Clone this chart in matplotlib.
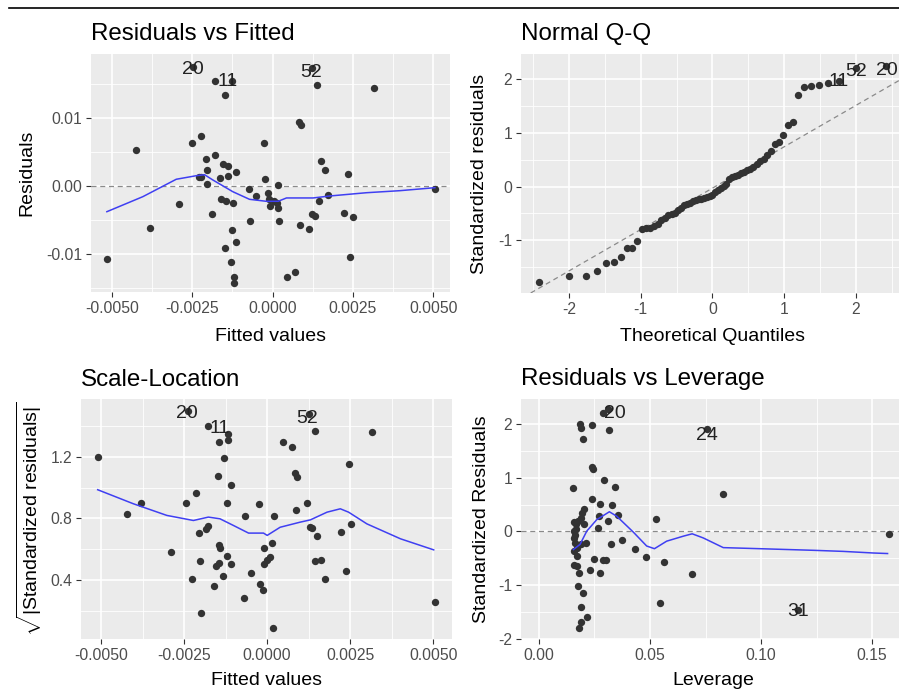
import statistics

import matplotlib
matplotlib.use("Agg")
import matplotlib.pyplot as plt
from matplotlib.lines import Line2D
from matplotlib.ticker import FixedLocator, FixedFormatter

plt.rcParams['font.family'] = ['Liberation Sans', 'DejaVu Sans']
plt.rcParams['mathtext.fontset'] = 'custom'
plt.rcParams['mathtext.rm'] = 'Liberation Sans'
plt.rcParams['mathtext.it'] = 'Liberation Sans:italic'
plt.rcParams['axes.unicode_minus'] = False

# --- Residuals vs Fitted ---
rvf_fitted = [-0.00516, -0.00426, -0.00383, -0.00293, -0.00251, -0.00222, -0.00230, -0.00224,
              -0.00207, -0.00203, -0.00203, -0.00181, -0.00190, -0.00181, -0.00165, -0.00153,
              -0.00140, -0.00138, -0.00147, -0.00160, -0.00146, -0.00124, -0.00113, -0.00127,
              -0.00113, -0.00147, -0.00130, -0.00121, -0.00121, -0.00126, -0.00075, -0.00070,
              -0.00053, -0.00027, -0.00023, -0.00015, -0.00012, -0.00009, 0.00003, 0.00012,
              0.00016, 0.00017, 0.00020, 0.00045, 0.00071, 0.00083, 0.00088, 0.00084,
              0.00113, 0.00122, 0.00132, 0.00139, 0.00144, 0.00149, 0.00162, 0.00171,
              0.00221, 0.00235, 0.00251, 0.00242, 0.00317, 0.00505, -0.00248, 0.00121]
rvf_resid = [-0.01078, 0.00534, -0.00618, -0.00269, 0.00637, 0.00735, 0.00137, 0.00130,
             0.00392, 0.00235, 0.00029, 0.00451, -0.00416, 0.01544, 0.00113, 0.00319,
             0.00299, 0.00152, 0.01343, -0.00196, -0.00216, -0.00250, 0.00211, -0.00642,
             -0.00819, -0.00917, -0.01123, -0.01343, -0.01431, 0.01544, -0.00044, -0.00515,
             -0.00147, 0.00637, 0.00108, -0.00098, -0.00196, -0.00289, -0.00225, -0.00255,
             0.00010, -0.00328, -0.00520, -0.01343, -0.01270, 0.00941, 0.00897, -0.00578,
             -0.00637, -0.00412, -0.00441, 0.01485, -0.00216, 0.00368, 0.00231, -0.00132,
             -0.00392, 0.00172, -0.00456, -0.01044, 0.01446, -0.00049, 0.01754, 0.01730]
rvf_smooth_x = [-0.00516, -0.00404, -0.00300, -0.00238, -0.00212, -0.00186, -0.00124, -0.00072,
                -0.00020, 0.00017, 0.00043, 0.00126, 0.00178, 0.00292, 0.00396, 0.00505]
rvf_smooth_y = [-0.00378, -0.00157, 0.00099, 0.00151, 0.00166, 0.00088, -0.00084, -0.00196,
                -0.00225, -0.00225, -0.00176, -0.00176, -0.00147, -0.00099, -0.00069, -0.00025]
rvf_labels = ["20", "11", "52"]
rvf_label_x = [-0.00248, -0.00141, 0.00120]
rvf_label_y = [0.01716, 0.01534, 0.01666]

# --- Normal Q-Q (sorted standardized residuals) ---
qq_sample = [-1.78, -1.67, -1.67, -1.58, -1.43, -1.40, -1.32, -1.14, -1.14, -1.01,
             -0.79, -0.78, -0.78, -0.74, -0.69, -0.62, -0.58, -0.53, -0.51, -0.49,
             -0.44, -0.40, -0.35, -0.33, -0.30, -0.27, -0.25, -0.24, -0.24, -0.22,
             -0.20, -0.18, -0.15, -0.11, -0.07, -0.03, 0.01, 0.05, 0.14, 0.17,
             0.20, 0.22, 0.25, 0.27, 0.30, 0.33, 0.37, 0.42, 0.47, 0.52,
             0.58, 0.66, 0.80, 0.83, 0.95, 1.15, 1.20, 1.70, 1.86, 1.87,
             1.88, 1.93, 1.97, 2.20, 2.25]
qq_line_intercept = -0.03
qq_line_slope = 0.77
qq_labels = ["11", "52", "20"]
qq_label_x = [1.753, 2.00, 2.428]
qq_label_y = [1.95, 2.136, 2.167]

# --- Scale-Location ---
sl_fitted = [-0.00510, -0.00423, -0.00380, -0.00290, -0.00244, -0.00225, -0.00215, -0.00202,
             -0.00204, -0.00199, -0.00185, -0.00177, -0.00179, -0.00159, -0.00154, -0.00145,
             -0.00145, -0.00142, -0.00147, -0.00145, -0.00133, -0.00129, -0.00121, -0.00120,
             -0.00118, -0.00118, -0.00108, -0.00108, -0.00066, -0.00070, -0.00049, -0.00025,
             -0.00021, -0.00013, -0.00009, -0.00009, -0.00001, 0.00009, 0.00016, 0.00021,
             0.00017, 0.00049, 0.00076, 0.00084, 0.00090, 0.00086, 0.00120, 0.00127,
             0.00130, 0.00135, 0.00145, 0.00150, 0.00145, 0.00162, 0.00175, 0.00223,
             0.00237, 0.00245, 0.00253, 0.00315, 0.00506, -0.00237]
sl_sqrt_std = [1.203, 0.826, 0.898, 0.585, 0.898, 0.405, 0.967, 0.522,
               0.705, 0.184, 0.733, 0.754, 1.400, 0.362, 0.492, 0.512,
               0.629, 0.607, 1.078, 1.300, 0.423, 1.192, 0.559, 0.900,
               1.312, 1.351, 1.021, 0.505, 0.815, 0.282, 0.444, 0.891,
               0.375, 0.336, 0.609, 0.505, 0.531, 0.548, 0.639, 0.813,
               0.089, 1.300, 1.264, 1.095, 1.069, 0.852, 0.900, 1.480,
               0.743, 0.737, 1.372, 0.685, 0.522, 0.531, 0.405, 0.709,
               0.457, 1.156, 0.763, 1.361, 0.254, 1.496]
sl_smooth_x = [-0.00510, -0.00403, -0.00302, -0.00222, -0.00177, -0.00142, -0.00101, -0.00056,
               -0.00011, 0.00000, 0.00039, 0.00099, 0.00130, 0.00180, 0.00220, 0.00245,
               0.00300, 0.00401, 0.00501]
sl_smooth_y = [0.987, 0.896, 0.820, 0.787, 0.809, 0.798, 0.754, 0.705,
               0.705, 0.690, 0.743, 0.776, 0.791, 0.841, 0.863, 0.841,
               0.765, 0.668, 0.596]
sl_labels = ["20", "11", "52"]
sl_label_x = [-0.00242, -0.00142, 0.00119]
sl_label_y = [1.484, 1.387, 1.452]

# --- Residuals vs Leverage ---
rvl_leverage = [0.0186, 0.0189, 0.0237, 0.0198, 0.0317, 0.0312, 0.0287, 0.0237,
                0.0245, 0.0155, 0.0291, 0.0342, 0.0237, 0.0275, 0.0329, 0.0204,
                0.0192, 0.0354, 0.0269, 0.0159, 0.0167, 0.0312, 0.0204, 0.0267,
                0.0159, 0.0160, 0.0158, 0.0160, 0.0212, 0.0189, 0.0324, 0.0374,
                0.0159, 0.0171, 0.0434, 0.0483, 0.0527, 0.0565, 0.0156, 0.0171,
                0.0249, 0.0287, 0.0302, 0.0231, 0.0275, 0.0182, 0.0174, 0.0200,
                0.0189, 0.0546, 0.0216, 0.0189, 0.0182, 0.0830, 0.0691, 0.1577,
                0.0758, 0.1165, 0.0174, 0.0190, 0.0165, 0.0170]
rvl_std = [2.00, 1.93, 1.98, 1.72, 1.89, 2.28, 2.20, 1.20,
           1.16, 0.81, 0.95, 0.82, 0.60, 0.52, 0.49, 0.415,
           0.35, 0.31, 0.29, 0.17, 0.14, 0.19, 0.14, 0.06,
           0.00, -0.06, -0.13, -0.21, -0.22, -0.24, -0.24, -0.155,
           -0.36, -0.45, -0.33, -0.48, 0.23, -0.56, -0.63, -0.64,
           -0.515, -0.53, -0.53, -0.72, -0.78, -0.78, -1.02, -1.15,
           -1.40, -1.33, -1.59, -1.69, -1.79, 0.70, -0.79, -0.04,
           1.91, -1.46, 0.20, 0.25, 0.05, -0.30]
rvl_smooth_x = [0.0155, 0.0185, 0.0215, 0.0260, 0.0317, 0.0350, 0.0425, 0.0485, 0.0520,
                0.0575, 0.0650, 0.0690, 0.0740, 0.0830, 0.0995, 0.1236, 0.1370, 0.1506, 0.1570]
rvl_smooth_y = [-0.335, -0.24, 0.006, 0.22, 0.367, 0.285, -0.012, -0.27, -0.32,
                -0.18, -0.087, -0.043, -0.12, -0.30, -0.32, -0.35, -0.37, -0.40, -0.41]
rvl_labels = ["20", "24", "31"]
rvl_label_x = [0.0342, 0.0755, 0.1168]
rvl_label_y = [2.20, 1.795, -1.49]

W, H = 899, 693
PANEL_BG = "#EBEBEB"
POINT_COL = "#333333"
SMOOTH_COL = "#3F3FF2"
DASH_COL = "#8A8A8A"
PT_SIZE = 28


def add_panel(fig, left, top, right, bottom):
    """Axes placed from pixel edges (origin top-left)."""
    return fig.add_axes([left / W, 1 - bottom / H, (right - left) / W, (bottom - top) / H])


def style_panel(ax, xlim, ylim, xmajor, xlabels, xminor, ymajor, ylabels, yminor):
    ax.set_facecolor(PANEL_BG)
    for s in ax.spines.values():
        s.set_visible(False)
    ax.set_xlim(*xlim)
    ax.set_ylim(*ylim)
    ax.xaxis.set_major_locator(FixedLocator(xmajor))
    ax.xaxis.set_major_formatter(FixedFormatter(xlabels))
    ax.xaxis.set_minor_locator(FixedLocator(xminor))
    ax.yaxis.set_major_locator(FixedLocator(ymajor))
    ax.yaxis.set_major_formatter(FixedFormatter(ylabels))
    ax.yaxis.set_minor_locator(FixedLocator(yminor))
    ax.grid(True, which="major", color="white", linewidth=1.2)
    ax.grid(True, which="minor", color="white", linewidth=0.6)
    ax.set_axisbelow(True)
    ax.tick_params(which="major", length=3.6, width=0.8, color="#333333",
                   labelcolor="#4D4D4D", labelsize=11.3, pad=2.8)
    ax.tick_params(which="minor", length=0)


def text_px(fig, x, y, s, **kw):
    fig.text(x / W, 1 - y / H, s, **kw)


def main():
    fig = plt.figure(figsize=(W / 100, H / 100), dpi=100)
    fig.patch.set_facecolor("white")

    # trait noir en haut de la capture
    fig.add_artist(Line2D([9 / W, 1.0], [1 - 8 / H, 1 - 8 / H], color="black", linewidth=1.2))

    lab_kw = dict(fontsize=14, color="#222222", ha="center", va="center")

    # Residuals vs Fitted
    ax1 = add_panel(fig, 91, 54, 450, 292)
    style_panel(ax1, (-0.005654, 0.00552), (-0.01559, 0.01941),
                [-0.005, -0.0025, 0, 0.0025, 0.005],
                ["-0.0050", "-0.0025", "0.0000", "0.0025", "0.0050"],
                [-0.00375, -0.00125, 0.00125, 0.00375],
                [-0.01, 0, 0.01], ["-0.01", "0.00", "0.01"],
                [-0.015, -0.005, 0.005, 0.015])
    ax1.axhline(0, color=DASH_COL, linewidth=0.9, linestyle=(0, (4, 3)))
    ax1.scatter(rvf_fitted, rvf_resid, s=PT_SIZE, color=POINT_COL, linewidths=0, zorder=3)
    ax1.plot(rvf_smooth_x, rvf_smooth_y, color=SMOOTH_COL, linewidth=1.1, zorder=4)
    for t, x, y in zip(rvf_labels, rvf_label_x, rvf_label_y):
        ax1.text(x, y, t, zorder=5, **lab_kw)

    # Normal Q-Q
    n = len(qq_sample)
    nd = statistics.NormalDist()
    qq_theo = [nd.inv_cdf((i + 0.5) / n) for i in range(n)]
    ax2 = add_panel(fig, 521, 54, 905, 293)
    style_panel(ax2, (-2.669, 2.683), (-1.981, 2.465),
                [-2, -1, 0, 1, 2], ["-2", "-1", "0", "1", "2"],
                [-2.5, -1.5, -0.5, 0.5, 1.5, 2.5],
                [-2, -1, 0, 1, 2], ["-2", "-1", "0", "1", "2"],
                [-1.5, -0.5, 0.5, 1.5])
    ax2.axline((0, qq_line_intercept), slope=qq_line_slope, color=DASH_COL,
               linewidth=0.9, linestyle=(0, (4, 3)))
    ax2.scatter(qq_theo, qq_sample, s=PT_SIZE, color=POINT_COL, linewidths=0, zorder=3)
    for t, x, y in zip(qq_labels, qq_label_x, qq_label_y):
        ax2.text(x, y, t, zorder=5, **lab_kw)

    # Scale-Location
    ax3 = add_panel(fig, 81, 399, 452, 639)
    style_panel(ax3, (-0.005602, 0.005561), (0.0163, 1.577),
                [-0.005, -0.0025, 0, 0.0025, 0.005],
                ["-0.0050", "-0.0025", "0.0000", "0.0025", "0.0050"],
                [-0.00375, -0.00125, 0.00125, 0.00375],
                [0.4, 0.8, 1.2], ["0.4", "0.8", "1.2"],
                [0.2, 0.6, 1.0, 1.4])
    ax3.scatter(sl_fitted, sl_sqrt_std, s=PT_SIZE, color=POINT_COL, linewidths=0, zorder=3)
    ax3.plot(sl_smooth_x, sl_smooth_y, color=SMOOTH_COL, linewidth=1.1, zorder=4)
    for t, x, y in zip(sl_labels, sl_label_x, sl_label_y):
        ax3.text(x, y, t, zorder=5, **lab_kw)

    # Residuals vs Leverage
    ax4 = add_panel(fig, 521, 399, 906, 639)
    style_panel(ax4, (-0.0081, 0.1653), (-2.0, 2.465),
                [0, 0.05, 0.10, 0.15], ["0.00", "0.05", "0.10", "0.15"],
                [0.025, 0.075, 0.125],
                [-2, -1, 0, 1, 2], ["-2", "-1", "0", "1", "2"],
                [-1.5, -0.5, 0.5, 1.5])
    ax4.axhline(0, color=DASH_COL, linewidth=0.9, linestyle=(0, (4, 3)))
    ax4.scatter(rvl_leverage, rvl_std, s=PT_SIZE, color=POINT_COL, linewidths=0, zorder=3)
    ax4.plot(rvl_smooth_x, rvl_smooth_y, color=SMOOTH_COL, linewidth=1.1, zorder=4)
    for t, x, y in zip(rvl_labels, rvl_label_x, rvl_label_y):
        ax4.text(x, y, t, zorder=5, **lab_kw)

    # titres
    title_kw = dict(fontsize=17.4, color="black", ha="left", va="baseline")
    text_px(fig, 91, 40, "Residuals vs Fitted", **title_kw)
    text_px(fig, 521, 40, "Normal Q-Q", **title_kw)
    text_px(fig, 81, 386, "Scale-Location", **title_kw)
    text_px(fig, 521, 385, "Residuals vs Leverage", **title_kw)

    # titres d'axes
    ax_kw = dict(fontsize=14, color="black", ha="center", va="baseline")
    text_px(fig, 270.5, 341, "Fitted values", **ax_kw)
    text_px(fig, 713, 341, "Theoretical Quantiles", **ax_kw)
    text_px(fig, 266.5, 685, "Fitted values", **ax_kw)
    text_px(fig, 713.5, 685, "Leverage", **ax_kw)

    yl_kw = dict(fontsize=14, color="black", ha="center", va="center", rotation=90)
    text_px(fig, 27, 173, "Residuals", **yl_kw)
    text_px(fig, 480, 173.5, "Standardized residuals", **yl_kw)
    text_px(fig, 29, 519, r"$\sqrt{|\mathrm{Standardized\ residuals}|}$", **yl_kw)
    text_px(fig, 482, 519, "Standardized Residuals", **yl_kw)

    fig.savefig("out.png", dpi=100)


if __name__ == "__main__":
    main()
